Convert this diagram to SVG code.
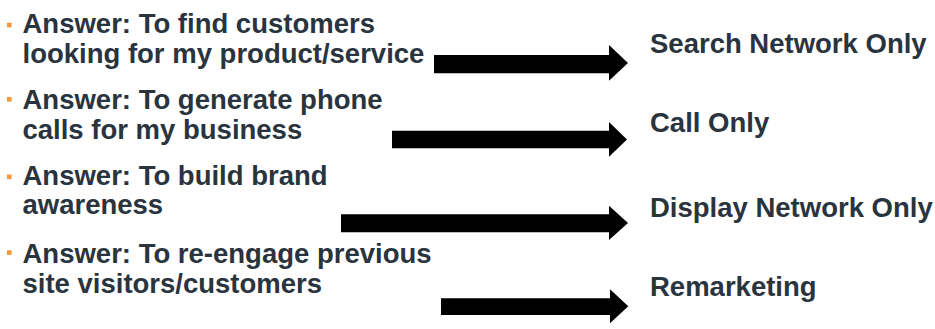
<svg xmlns="http://www.w3.org/2000/svg" width="935" height="329" viewBox="0 0 935 329">
<style>
.t{font-family:"Liberation Sans",Arial,sans-serif;font-weight:bold;font-size:27.5px;fill:#29343e}
.b{fill:#f7963a}
.a{fill:#000}
</style>
<rect width="935" height="329" fill="#fff"/>
<g id="answer1">
<rect class="b" x="7" y="22.7" width="4.6" height="4.6"/>
<text class="t"><tspan x="22.5" y="33">Answer: To find customers</tspan><tspan x="22.5" y="62.5">looking for my product/service</tspan></text>
</g>
<g id="answer2">
<rect class="b" x="7" y="97" width="4.6" height="4.6"/>
<text class="t"><tspan x="22.5" y="109.3">Answer: To generate phone</tspan><tspan x="22.5" y="139">calls for my business</tspan></text>
</g>
<g id="answer3">
<rect class="b" x="7" y="174.5" width="4.6" height="4.6"/>
<text class="t"><tspan x="22.5" y="185">Answer: To build brand</tspan><tspan x="22.5" y="214">awareness</tspan></text>
</g>
<g id="answer4">
<rect class="b" x="7" y="250.3" width="4.6" height="4.6"/>
<text class="t"><tspan x="22.5" y="263">Answer: To re-engage previous</tspan><tspan x="22.5" y="292.5">site visitors/customers</tspan></text>
</g>
<g id="label1"><text class="t" x="650" y="53.3">Search Network Only</text></g>
<g id="label2"><text class="t" x="650" y="131.7">Call Only</text></g>
<g id="label3"><text class="t" x="650" y="216.7">Display Network Only</text></g>
<g id="label4"><text class="t" x="650" y="295.7">Remarketing</text></g>
<g id="connectors">
<polygon class="a" points="434,55 609,55 609,45 628,63 609,80.7 609,73.3 434,73.3"/>
<polygon class="a" points="392,130.7 609,130.7 609,122 627,139.5 609,156.7 609,148.3 392,148.3"/>
<polygon class="a" points="341,214.3 609,214.3 609,205.7 628,223 609,240 609,232.3 341,232.3"/>
<polygon class="a" points="441,298.3 610,298.3 610,289.3 628.3,306.3 610,323.3 610,315 441,315"/>
</g>
</svg>
